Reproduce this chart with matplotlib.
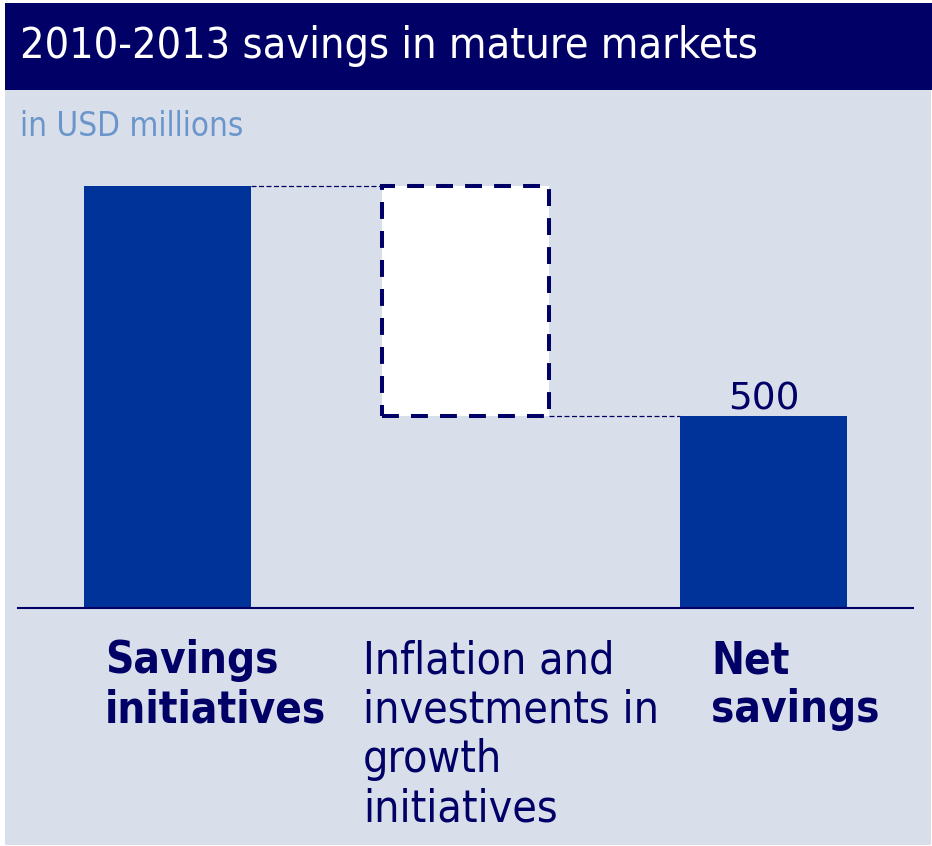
import matplotlib.pyplot as plt
from matplotlib.patches import Rectangle

# savings waterfall, USD millions
categories = ["Savings\ninitiatives", "Inflation and\ninvestments in\ngrowth\ninitiatives", "Net\nsavings"]
label_bold = [True, False, True]
savings = 1100
inflation = -600
net = savings + inflation

navy = "#000066"
bar_blue = "#003399"
panel = "#D9DFEA"
sub_blue = "#6B96CC"

W, H = 932, 846
fig = plt.figure(figsize=(W / 100, H / 100), dpi=100, facecolor="white")

# background panel and header band
fig.patches.append(Rectangle((5 / W, 1 - 845 / H), 926 / W, 755 / H, transform=fig.transFigure,
                             facecolor=panel, edgecolor="none", zorder=-5))
fig.patches.append(Rectangle((5 / W, 1 - 90 / H), 927 / W, 87 / H, transform=fig.transFigure,
                             facecolor=navy, edgecolor="none", zorder=-5))
fig.text(20 / W, 1 - 46 / H, "2010-2013 savings in mature markets", color="white",
         fontsize=31, fontstretch="condensed", va="center", ha="left")
fig.text(20 / W, 1 - 126 / H, "in USD millions", color=sub_blue,
         fontsize=23.8, fontstretch="condensed", va="center", ha="left")

px_per_unit = 192 / 500
ytop = 1160
ax = fig.add_axes([18 / W, (H - 608) / H, 895 / W, ytop * px_per_unit / H])
ax.set_xlim(-0.5, 2.5)
ax.set_ylim(0, ytop)
ax.axis("off")
ax.patch.set_visible(False)

width = 0.56
ax.bar(0, savings, width=width, color=bar_blue, zorder=2)
ax.bar(1, -inflation, bottom=net, width=width, facecolor="white", edgecolor=navy,
       linewidth=2.9, linestyle=(0, (4.2, 3)), zorder=2)
ax.bar(2, net, width=width, color=bar_blue, zorder=2)

# connectors between bars
ax.plot([0 + width / 2, 1 - width / 2], [savings, savings], color=navy, lw=0.9,
        linestyle=(0, (4, 2)), zorder=1)
ax.plot([1 + width / 2, 2 - width / 2], [net, net], color=navy, lw=0.9,
        linestyle=(0, (4, 2)), zorder=1)

ax.axhline(0, color=navy, lw=1.5, zorder=3, clip_on=False)
ax.text(2, net + 16, f"{net}", ha="center", va="baseline", fontsize=27, color=navy)

offsets = [-0.208, -0.343, -0.177]
sizes = [31.5, 32, 31.5]
for i, (lab, b, off, fs) in enumerate(zip(categories, label_bold, offsets, sizes)):
    ax.text(i + off, -31 / px_per_unit, lab, ha="left", va="top", color=navy,
            fontsize=fs, fontstretch="condensed", fontweight="bold" if b else "normal",
            linespacing=1.19)

fig.savefig("out.png", dpi=100, facecolor="white")
